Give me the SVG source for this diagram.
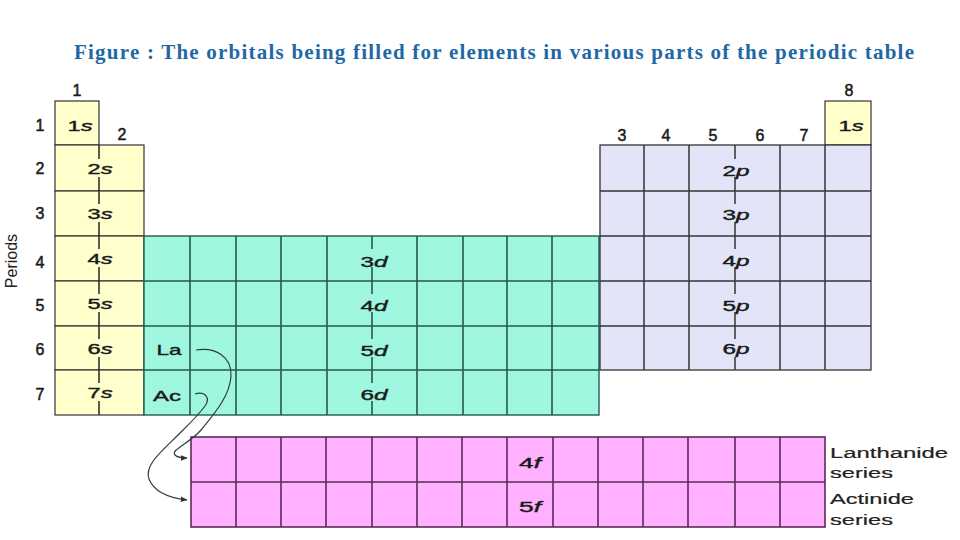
<svg xmlns="http://www.w3.org/2000/svg" width="960" height="540" viewBox="0 0 960 540">
<style>
.title{font-family:"Liberation Serif","Times New Roman",serif;font-weight:bold;font-size:21px;fill:#1e68a5}
.num{font-family:"Liberation Sans",Arial,sans-serif;font-size:16px;fill:#1a1a1a;stroke:#1a1a1a;stroke-width:0.5;text-anchor:middle}
.per{font-family:"Liberation Sans",Arial,sans-serif;font-size:16px;fill:#222;text-anchor:middle}
.lbl{font-family:"Liberation Sans",Arial,sans-serif;font-size:15px;fill:#1a1a1a;stroke:#1a1a1a;stroke-width:0.4;text-anchor:middle}
.it{font-style:italic}
.ser{font-family:"Liberation Sans",Arial,sans-serif;font-size:15.5px;fill:#222;stroke:#222;stroke-width:0.2}
.s{fill:#ffffcc;stroke:#333;stroke-width:1.2}
.d{fill:#9ff7e0;stroke:#245a4e;stroke-width:1.4}
.p{fill:#e4e4f8;stroke:#333;stroke-width:1.3}
.f{fill:#ffb0ff;stroke:#5a2a5a;stroke-width:1.6}
.sl{stroke:#333;stroke-width:1.6;fill:none}
.dl{stroke:#245a4e;stroke-width:1.6;fill:none}
.pl{stroke:#333;stroke-width:1.5;fill:none}
.conn{fill:none;stroke:#2f3f3f;stroke-width:1.2}
</style>
<defs>
<marker id="ah" viewBox="0 0 10 10" refX="9" refY="5" markerWidth="7" markerHeight="7" orient="auto" markerUnits="userSpaceOnUse">
<path d="M0,1 L10,5 L0,9 Z" fill="#333"/>
</marker>
</defs>

<text class="title" x="494" y="59" text-anchor="middle" textLength="840" lengthAdjust="spacing">Figure : The orbitals being filled for elements in various parts of the periodic table</text>

<g id="group-numbers">
<text class="num" x="77" y="96">1</text>
<text class="num" x="122" y="140">2</text>
<text class="num" x="622" y="141">3</text>
<text class="num" x="666" y="141">4</text>
<text class="num" x="713" y="141">5</text>
<text class="num" x="760" y="141">6</text>
<text class="num" x="804" y="141">7</text>
<text class="num" x="849" y="96">8</text>
</g>

<g id="period-numbers">
<text class="num" x="40" y="131">1</text>
<text class="num" x="40" y="174">2</text>
<text class="num" x="40" y="219">3</text>
<text class="num" x="40" y="268">4</text>
<text class="num" x="40" y="311">5</text>
<text class="num" x="40" y="355">6</text>
<text class="num" x="40" y="400">7</text>
<text class="per" transform="translate(17,261) rotate(-90)" x="0" y="0">Periods</text>
</g>

<g id="s-block">
<rect class="s" x="55" y="101" width="44" height="44"/>
<rect class="s" x="55" y="145" width="89" height="46"/>
<rect class="s" x="55" y="191" width="89" height="45"/>
<rect class="s" x="55" y="236" width="89" height="45"/>
<rect class="s" x="55" y="281" width="89" height="45"/>
<rect class="s" x="55" y="326" width="89" height="44"/>
<rect class="s" x="55" y="370" width="89" height="45"/>
<path class="sl" d="M99,145 V159 M99,177 V204 M99,222 V249 M99,267 V294 M99,312 V339 M99,357 V383 M99,401 V415"/>
<text class="lbl" x="80" y="131" textLength="25" lengthAdjust="spacingAndGlyphs">1<tspan class="it">s</tspan></text>
<text class="lbl" x="100" y="174" textLength="25" lengthAdjust="spacingAndGlyphs">2<tspan class="it">s</tspan></text>
<text class="lbl" x="100" y="219" textLength="25" lengthAdjust="spacingAndGlyphs">3<tspan class="it">s</tspan></text>
<text class="lbl" x="100" y="264" textLength="25" lengthAdjust="spacingAndGlyphs">4<tspan class="it">s</tspan></text>
<text class="lbl" x="100" y="309" textLength="25" lengthAdjust="spacingAndGlyphs">5<tspan class="it">s</tspan></text>
<text class="lbl" x="100" y="354" textLength="25" lengthAdjust="spacingAndGlyphs">6<tspan class="it">s</tspan></text>
<text class="lbl" x="100" y="398" textLength="25" lengthAdjust="spacingAndGlyphs">7<tspan class="it">s</tspan></text>
</g>

<g id="helium">
<rect class="s" x="825" y="101" width="46" height="44"/>
<text class="lbl" x="851" y="131" textLength="25" lengthAdjust="spacingAndGlyphs">1<tspan class="it">s</tspan></text>
</g>

<g id="d-block">
<rect class="d" x="144" y="236" width="455" height="179"/>
<path class="dl" d="M144,281 H599 M144,326 H599 M144,370 H599 M190,236 V415 M236,236 V415 M281,236 V415 M327,236 V415 M417,236 V415 M463,236 V415 M507,236 V415 M552,236 V415"/>
<path class="dl" d="M372,236 V249 M372,267 V294 M372,312 V339 M372,357 V383 M372,401 V415"/>
<text class="lbl" x="374" y="267" textLength="27" lengthAdjust="spacingAndGlyphs">3<tspan class="it">d</tspan></text>
<text class="lbl" x="374" y="311" textLength="27" lengthAdjust="spacingAndGlyphs">4<tspan class="it">d</tspan></text>
<text class="lbl" x="374" y="356" textLength="27" lengthAdjust="spacingAndGlyphs">5<tspan class="it">d</tspan></text>
<text class="lbl" x="374" y="400" textLength="27" lengthAdjust="spacingAndGlyphs">6<tspan class="it">d</tspan></text>
<text class="lbl" x="169" y="355" textLength="25" lengthAdjust="spacingAndGlyphs">La</text>
<text class="lbl" x="167" y="401" textLength="28" lengthAdjust="spacingAndGlyphs">Ac</text>
</g>

<g id="p-block">
<rect class="p" x="600" y="145" width="271" height="225"/>
<path class="pl" d="M600,191 H871 M600,236 H871 M600,281 H871 M600,326 H871 M644,145 V370 M689,145 V370 M780,145 V370 M825,145 V370"/>
<path class="pl" d="M735,145 V159 M735,177 V204 M735,222 V249 M735,267 V294 M735,312 V339 M735,357 V370"/>
<text class="lbl" x="736" y="176" textLength="27" lengthAdjust="spacingAndGlyphs">2<tspan class="it">p</tspan></text>
<text class="lbl" x="736" y="220" textLength="27" lengthAdjust="spacingAndGlyphs">3<tspan class="it">p</tspan></text>
<text class="lbl" x="736" y="266" textLength="27" lengthAdjust="spacingAndGlyphs">4<tspan class="it">p</tspan></text>
<text class="lbl" x="736" y="311" textLength="27" lengthAdjust="spacingAndGlyphs">5<tspan class="it">p</tspan></text>
<text class="lbl" x="736" y="354" textLength="27" lengthAdjust="spacingAndGlyphs">6<tspan class="it">p</tspan></text>
</g>

<g id="f-block">
<rect class="f" x="191" y="437" width="634" height="90"/>
<path class="f" d="M191,482 H825 M236,437 V527 M281,437 V527 M326,437 V527 M372,437 V527 M417,437 V527 M462,437 V527 M507,437 V527 M553,437 V527 M598,437 V527 M643,437 V527 M688,437 V527 M735,437 V527 M780,437 V527"/>
<text class="lbl" x="530" y="468" textLength="22" lengthAdjust="spacingAndGlyphs">4<tspan class="it">f</tspan></text>
<text class="lbl" x="530" y="512" textLength="22" lengthAdjust="spacingAndGlyphs">5<tspan class="it">f</tspan></text>
<text class="ser" x="830" y="458" textLength="118" lengthAdjust="spacingAndGlyphs">Lanthanide</text>
<text class="ser" x="830" y="478" textLength="63" lengthAdjust="spacingAndGlyphs">series</text>
<text class="ser" x="830" y="504" textLength="84" lengthAdjust="spacingAndGlyphs">Actinide</text>
<text class="ser" x="830" y="525" textLength="63" lengthAdjust="spacingAndGlyphs">series</text>
</g>

<g id="connectors">
<path class="conn" marker-end="url(#ah)" d="M196,350 C216,347 232,357 231,376 C230,396 214,414 201,430 C190,443 170,450 175,455 C177,457 181,458 187,458"/>
<path class="conn" marker-end="url(#ah)" d="M195,394 C205,391 211,398 205,406 C196,418 186,427 178,435 C162,451 144,465 149,479 C154,492 170,498 187,500"/>
</g>
</svg>
